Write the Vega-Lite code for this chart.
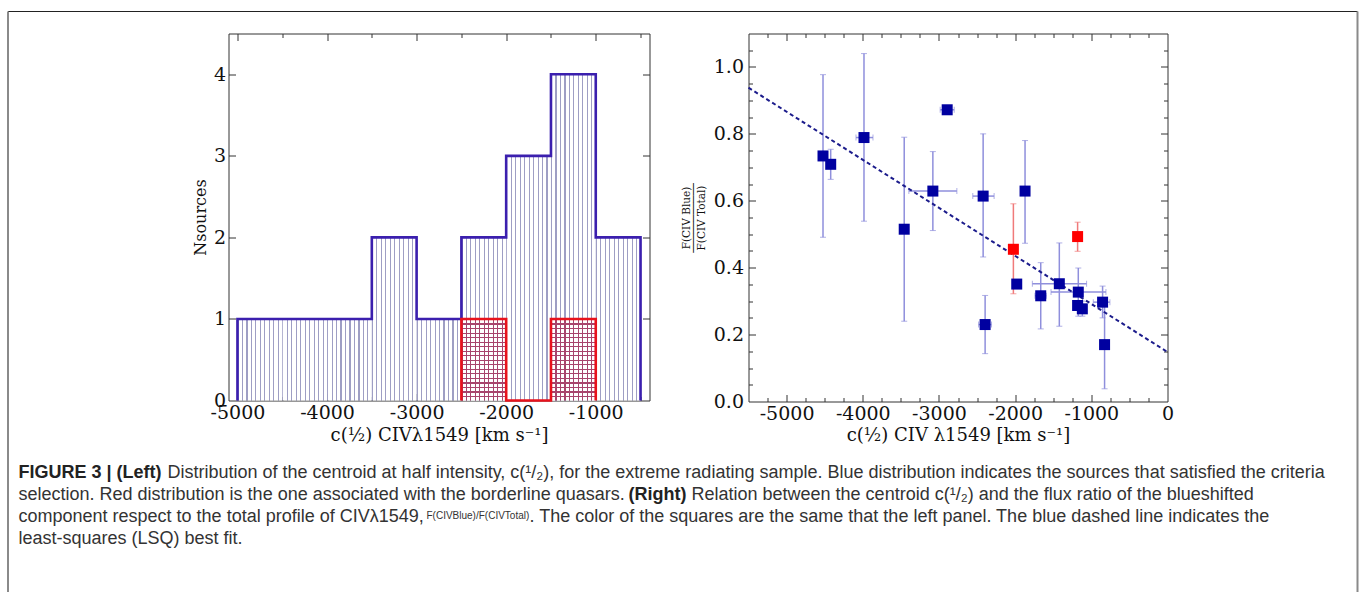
{
  "$schema": "https://vega.github.io/schema/vega-lite/v6.json",
  "padding": {"left": 6.5, "top": 9.5, "right": 0, "bottom": 0},
  "background": "white",
  "config": {
    "view": {"stroke": null},
    "axis": {"labelFont": "DejaVu Serif", "titleFont": "DejaVu Serif", "labelFontSize": 19, "titleFontSize": 18, "titleFontWeight": "normal", "labelColor": "#111", "titleColor": "#111", "tickColor": "#333", "tickWidth": 1, "grid": false, "labelFlush": false, "labelOverlap": false, "labelBound": false, "domain": false}
  },
  "datasets": {
    "hist": [
      {"start": -5000, "end": -4500, "count": 1, "group": "blue"},
      {"start": -4500, "end": -4000, "count": 1, "group": "blue"},
      {"start": -4000, "end": -3500, "count": 1, "group": "blue"},
      {"start": -3500, "end": -3000, "count": 2, "group": "blue"},
      {"start": -3000, "end": -2500, "count": 1, "group": "blue"},
      {"start": -2500, "end": -2000, "count": 2, "group": "blue"},
      {"start": -2000, "end": -1500, "count": 3, "group": "blue"},
      {"start": -1500, "end": -1000, "count": 4, "group": "blue"},
      {"start": -1000, "end": -500, "count": 2, "group": "blue"},
      {"start": -2500, "end": -2000, "count": 1, "group": "red"},
      {"start": -2000, "end": -1500, "count": 0, "group": "red"},
      {"start": -1500, "end": -1000, "count": 1, "group": "red"}
    ],
    "outline": [
      {"i": 0, "x": -5000, "y": 0, "group": "blue"},
      {"i": 1, "x": -5000, "y": 1, "group": "blue"},
      {"i": 2, "x": -3500, "y": 1, "group": "blue"},
      {"i": 3, "x": -3500, "y": 2, "group": "blue"},
      {"i": 4, "x": -3000, "y": 2, "group": "blue"},
      {"i": 5, "x": -3000, "y": 1, "group": "blue"},
      {"i": 6, "x": -2500, "y": 1, "group": "blue"},
      {"i": 7, "x": -2500, "y": 2, "group": "blue"},
      {"i": 8, "x": -2000, "y": 2, "group": "blue"},
      {"i": 9, "x": -2000, "y": 3, "group": "blue"},
      {"i": 10, "x": -1500, "y": 3, "group": "blue"},
      {"i": 11, "x": -1500, "y": 4, "group": "blue"},
      {"i": 12, "x": -1000, "y": 4, "group": "blue"},
      {"i": 13, "x": -1000, "y": 2, "group": "blue"},
      {"i": 14, "x": -500, "y": 2, "group": "blue"},
      {"i": 15, "x": -500, "y": 0, "group": "blue"},
      {"i": 0, "x": -2500, "y": 0, "group": "red"},
      {"i": 1, "x": -2500, "y": 1, "group": "red"},
      {"i": 2, "x": -2000, "y": 1, "group": "red"},
      {"i": 3, "x": -2000, "y": 0, "group": "red"},
      {"i": 4, "x": -1500, "y": 0, "group": "red"},
      {"i": 5, "x": -1500, "y": 1, "group": "red"},
      {"i": 6, "x": -1000, "y": 1, "group": "red"},
      {"i": 7, "x": -1000, "y": 0, "group": "red"}
    ],
    "points": [
      {"x": -4522, "y": 0.734, "group": "blue", "ylo": 0.491, "yhi": 0.977, "xlo": null, "xhi": null},
      {"x": -4421, "y": 0.709, "group": "blue", "ylo": 0.664, "yhi": 0.754, "xlo": null, "xhi": null},
      {"x": -3984, "y": 0.789, "group": "blue", "ylo": 0.539, "yhi": 1.040, "xlo": -4089, "xhi": -3866},
      {"x": -2892, "y": 0.872, "group": "blue", "ylo": null, "yhi": null, "xlo": -2984, "xhi": -2800},
      {"x": -3456, "y": 0.515, "group": "blue", "ylo": 0.240, "yhi": 0.790, "xlo": null, "xhi": null},
      {"x": -3080, "y": 0.629, "group": "blue", "ylo": 0.511, "yhi": 0.747, "xlo": -3395, "xhi": -2765},
      {"x": -2420, "y": 0.614, "group": "blue", "ylo": 0.432, "yhi": 0.800, "xlo": -2556, "xhi": -2276},
      {"x": -1870, "y": 0.629, "group": "blue", "ylo": 0.473, "yhi": 0.780, "xlo": null, "xhi": null},
      {"x": -2023, "y": 0.455, "group": "red", "ylo": 0.322, "yhi": 0.591, "xlo": null, "xhi": null},
      {"x": -1180, "y": 0.493, "group": "red", "ylo": 0.449, "yhi": 0.536, "xlo": null, "xhi": null},
      {"x": -1979, "y": 0.351, "group": "blue", "ylo": null, "yhi": null, "xlo": null, "xhi": null},
      {"x": -2394, "y": 0.230, "group": "blue", "ylo": 0.143, "yhi": 0.317, "xlo": -2480, "xhi": -2310},
      {"x": -1664, "y": 0.316, "group": "blue", "ylo": 0.217, "yhi": 0.415, "xlo": -1740, "xhi": -1590},
      {"x": -1420, "y": 0.352, "group": "blue", "ylo": 0.225, "yhi": 0.474, "xlo": -1774, "xhi": -1062},
      {"x": -1171, "y": 0.327, "group": "blue", "ylo": 0.255, "yhi": 0.399, "xlo": -1529, "xhi": -808},
      {"x": -1180, "y": 0.287, "group": "blue", "ylo": null, "yhi": null, "xlo": null, "xhi": null},
      {"x": -1118, "y": 0.277, "group": "blue", "ylo": 0.255, "yhi": 0.300, "xlo": null, "xhi": null},
      {"x": -852, "y": 0.297, "group": "blue", "ylo": 0.250, "yhi": 0.345, "xlo": -974, "xhi": -756},
      {"x": -826, "y": 0.170, "group": "blue", "ylo": 0.038, "yhi": 0.300, "xlo": -880, "xhi": -770}
    ],
    "fit": [
      {"x": -5500, "y": 0.938},
      {"x": 0, "y": 0.148}
    ],
    "caption": [
      {"line": 1, "seg": "a", "text": "FIGURE 3 | (Left)"},
      {"line": 1, "seg": "b", "text": "Distribution of the centroid at half intensity, c(¹/₂), for the extreme radiating sample. Blue distribution indicates the sources that satisfied the criteria"},
      {"line": 2, "seg": "a", "text": "selection. Red distribution is the one associated with the borderline quasars."},
      {"line": 2, "seg": "b", "text": "(Right)"},
      {"line": 2, "seg": "c", "text": "Relation between the centroid c(¹/₂) and the flux ratio of the blueshifted"},
      {"line": 3, "seg": "a", "text": "component respect to the total profile of CIVλ1549,"},
      {"line": 3, "seg": "b", "text": "F(CIVBlue)/F(CIVTotal)"},
      {"line": 3, "seg": "c", "text": ". The color of the squares are the same that the left panel. The blue dashed line indicates the"},
      {"line": 4, "seg": "a", "text": "least-squares (LSQ) best fit."}
    ],
    "frame": [{}]
  },
  "spacing": 99,
  "bounds": "flush",
  "hconcat": [
    {
      "width": 421,
      "height": 367,
      "view": {"stroke": "#333", "strokeWidth": 1},
      "resolve": {"axis": {"x": "independent", "y": "independent"}},
      "layer": [
        {
          "data": {"name": "hist"},
          "transform": [{"filter": "datum.group === 'blue'"}],
          "mark": {"type": "bar", "strokeWidth": 0, "fill": {"gradient": "linear", "x1": 0, "y1": 0, "x2": 1, "y2": 0, "stops": [
            {"offset": 0, "color": "#9e9ec4"}, {"offset": 0.025, "color": "#9e9ec4"}, {"offset": 0.025, "color": "#ffffff"}, {"offset": 0.1, "color": "#ffffff"},
            {"offset": 0.1, "color": "#9e9ec4"}, {"offset": 0.125, "color": "#9e9ec4"}, {"offset": 0.125, "color": "#ffffff"}, {"offset": 0.2, "color": "#ffffff"},
            {"offset": 0.2, "color": "#9e9ec4"}, {"offset": 0.225, "color": "#9e9ec4"}, {"offset": 0.225, "color": "#ffffff"}, {"offset": 0.3, "color": "#ffffff"},
            {"offset": 0.3, "color": "#9e9ec4"}, {"offset": 0.325, "color": "#9e9ec4"}, {"offset": 0.325, "color": "#ffffff"}, {"offset": 0.4, "color": "#ffffff"},
            {"offset": 0.4, "color": "#9e9ec4"}, {"offset": 0.425, "color": "#9e9ec4"}, {"offset": 0.425, "color": "#ffffff"}, {"offset": 0.5, "color": "#ffffff"},
            {"offset": 0.5, "color": "#9e9ec4"}, {"offset": 0.525, "color": "#9e9ec4"}, {"offset": 0.525, "color": "#ffffff"}, {"offset": 0.6, "color": "#ffffff"},
            {"offset": 0.6, "color": "#9e9ec4"}, {"offset": 0.625, "color": "#9e9ec4"}, {"offset": 0.625, "color": "#ffffff"}, {"offset": 0.7, "color": "#ffffff"},
            {"offset": 0.7, "color": "#9e9ec4"}, {"offset": 0.725, "color": "#9e9ec4"}, {"offset": 0.725, "color": "#ffffff"}, {"offset": 0.8, "color": "#ffffff"},
            {"offset": 0.8, "color": "#9e9ec4"}, {"offset": 0.825, "color": "#9e9ec4"}, {"offset": 0.825, "color": "#ffffff"}, {"offset": 0.9, "color": "#ffffff"},
            {"offset": 0.9, "color": "#9e9ec4"}, {"offset": 0.925, "color": "#9e9ec4"}, {"offset": 0.925, "color": "#ffffff"}, {"offset": 1, "color": "#ffffff"}
          ]}},
          "encoding": {
            "x": {"field": "start", "type": "quantitative", "scale": {"domain": [-5100, -400], "nice": false, "zero": false},
                  "axis": {"orient": "bottom", "values": [-5000, -4000, -3000, -2000, -1000], "labelExpr": "toString(datum.value)", "ticks": false, "labelPadding": 3, "title": "c(½) CIVλ1549 [km s⁻¹]", "titlePadding": 4}},
            "x2": {"field": "end"},
            "y": {"field": "count", "type": "quantitative", "scale": {"domain": [0, 4.5], "nice": false},
                  "axis": {"orient": "left", "values": [0, 1, 2, 3, 4], "format": "d", "ticks": false, "labelPadding": 3, "title": "Nsources", "titlePadding": 5, "titleFontSize": 16}},
            "y2": {"datum": 0}
          }
        },
        {
          "data": {"name": "hist"},
          "transform": [{"filter": "datum.group === 'red' && datum.count > 0"}],
          "mark": {"type": "bar", "strokeWidth": 0, "fill": {"gradient": "linear", "x1": 0, "y1": 0, "x2": 1, "y2": 0, "stops": [
            {"offset": 0, "color": "#a8446c"}, {"offset": 0.025, "color": "#a8446c"}, {"offset": 0.025, "color": "#ffffff"}, {"offset": 0.1, "color": "#ffffff"},
            {"offset": 0.1, "color": "#a8446c"}, {"offset": 0.125, "color": "#a8446c"}, {"offset": 0.125, "color": "#ffffff"}, {"offset": 0.2, "color": "#ffffff"},
            {"offset": 0.2, "color": "#a8446c"}, {"offset": 0.225, "color": "#a8446c"}, {"offset": 0.225, "color": "#ffffff"}, {"offset": 0.3, "color": "#ffffff"},
            {"offset": 0.3, "color": "#a8446c"}, {"offset": 0.325, "color": "#a8446c"}, {"offset": 0.325, "color": "#ffffff"}, {"offset": 0.4, "color": "#ffffff"},
            {"offset": 0.4, "color": "#a8446c"}, {"offset": 0.425, "color": "#a8446c"}, {"offset": 0.425, "color": "#ffffff"}, {"offset": 0.5, "color": "#ffffff"},
            {"offset": 0.5, "color": "#a8446c"}, {"offset": 0.525, "color": "#a8446c"}, {"offset": 0.525, "color": "#ffffff"}, {"offset": 0.6, "color": "#ffffff"},
            {"offset": 0.6, "color": "#a8446c"}, {"offset": 0.625, "color": "#a8446c"}, {"offset": 0.625, "color": "#ffffff"}, {"offset": 0.7, "color": "#ffffff"},
            {"offset": 0.7, "color": "#a8446c"}, {"offset": 0.725, "color": "#a8446c"}, {"offset": 0.725, "color": "#ffffff"}, {"offset": 0.8, "color": "#ffffff"},
            {"offset": 0.8, "color": "#a8446c"}, {"offset": 0.825, "color": "#a8446c"}, {"offset": 0.825, "color": "#ffffff"}, {"offset": 0.9, "color": "#ffffff"},
            {"offset": 0.9, "color": "#a8446c"}, {"offset": 0.925, "color": "#a8446c"}, {"offset": 0.925, "color": "#ffffff"}, {"offset": 1, "color": "#ffffff"}
          ]}},
          "encoding": {
            "x": {"field": "start", "type": "quantitative",
                  "axis": {"orient": "bottom", "values": [-5000, -4500, -4000, -3500, -3000, -2500, -2000, -1500, -1000, -500], "labels": false, "title": null, "tickSize": {"condition": {"test": "datum.value % 1000 === 0", "value": -7}, "value": -4}}},
            "x2": {"field": "end"},
            "y": {"field": "count", "type": "quantitative",
                  "axis": {"orient": "left", "values": [1, 2, 3, 4], "labels": false, "title": null, "tickSize": -7}},
            "y2": {"datum": 0}
          }
        },
        {
          "data": {"name": "hist"},
          "transform": [{"filter": "datum.group === 'red' && datum.count > 0"}],
          "mark": {"type": "bar", "strokeWidth": 0, "fill": {"gradient": "linear", "x1": 0, "y1": 0, "x2": 0, "y2": 1, "stops": [
            {"offset": 0, "color": "#a8446c"}, {"offset": 0.014, "color": "#a8446c"}, {"offset": 0.014, "color": "rgba(255,255,255,0)"}, {"offset": 0.0556, "color": "rgba(255,255,255,0)"},
            {"offset": 0.0556, "color": "#a8446c"}, {"offset": 0.0696, "color": "#a8446c"}, {"offset": 0.0696, "color": "rgba(255,255,255,0)"}, {"offset": 0.1111, "color": "rgba(255,255,255,0)"},
            {"offset": 0.1111, "color": "#a8446c"}, {"offset": 0.1251, "color": "#a8446c"}, {"offset": 0.1251, "color": "rgba(255,255,255,0)"}, {"offset": 0.1667, "color": "rgba(255,255,255,0)"},
            {"offset": 0.1667, "color": "#a8446c"}, {"offset": 0.1807, "color": "#a8446c"}, {"offset": 0.1807, "color": "rgba(255,255,255,0)"}, {"offset": 0.2222, "color": "rgba(255,255,255,0)"},
            {"offset": 0.2222, "color": "#a8446c"}, {"offset": 0.2362, "color": "#a8446c"}, {"offset": 0.2362, "color": "rgba(255,255,255,0)"}, {"offset": 0.2778, "color": "rgba(255,255,255,0)"},
            {"offset": 0.2778, "color": "#a8446c"}, {"offset": 0.2918, "color": "#a8446c"}, {"offset": 0.2918, "color": "rgba(255,255,255,0)"}, {"offset": 0.3333, "color": "rgba(255,255,255,0)"},
            {"offset": 0.3333, "color": "#a8446c"}, {"offset": 0.3473, "color": "#a8446c"}, {"offset": 0.3473, "color": "rgba(255,255,255,0)"}, {"offset": 0.3889, "color": "rgba(255,255,255,0)"},
            {"offset": 0.3889, "color": "#a8446c"}, {"offset": 0.4029, "color": "#a8446c"}, {"offset": 0.4029, "color": "rgba(255,255,255,0)"}, {"offset": 0.4444, "color": "rgba(255,255,255,0)"},
            {"offset": 0.4444, "color": "#a8446c"}, {"offset": 0.4584, "color": "#a8446c"}, {"offset": 0.4584, "color": "rgba(255,255,255,0)"}, {"offset": 0.5, "color": "rgba(255,255,255,0)"},
            {"offset": 0.5, "color": "#a8446c"}, {"offset": 0.514, "color": "#a8446c"}, {"offset": 0.514, "color": "rgba(255,255,255,0)"}, {"offset": 0.5556, "color": "rgba(255,255,255,0)"},
            {"offset": 0.5556, "color": "#a8446c"}, {"offset": 0.5696, "color": "#a8446c"}, {"offset": 0.5696, "color": "rgba(255,255,255,0)"}, {"offset": 0.6111, "color": "rgba(255,255,255,0)"},
            {"offset": 0.6111, "color": "#a8446c"}, {"offset": 0.6251, "color": "#a8446c"}, {"offset": 0.6251, "color": "rgba(255,255,255,0)"}, {"offset": 0.6667, "color": "rgba(255,255,255,0)"},
            {"offset": 0.6667, "color": "#a8446c"}, {"offset": 0.6807, "color": "#a8446c"}, {"offset": 0.6807, "color": "rgba(255,255,255,0)"}, {"offset": 0.7222, "color": "rgba(255,255,255,0)"},
            {"offset": 0.7222, "color": "#a8446c"}, {"offset": 0.7362, "color": "#a8446c"}, {"offset": 0.7362, "color": "rgba(255,255,255,0)"}, {"offset": 0.7778, "color": "rgba(255,255,255,0)"},
            {"offset": 0.7778, "color": "#a8446c"}, {"offset": 0.7918, "color": "#a8446c"}, {"offset": 0.7918, "color": "rgba(255,255,255,0)"}, {"offset": 0.8333, "color": "rgba(255,255,255,0)"},
            {"offset": 0.8333, "color": "#a8446c"}, {"offset": 0.8473, "color": "#a8446c"}, {"offset": 0.8473, "color": "rgba(255,255,255,0)"}, {"offset": 0.8889, "color": "rgba(255,255,255,0)"},
            {"offset": 0.8889, "color": "#a8446c"}, {"offset": 0.9029, "color": "#a8446c"}, {"offset": 0.9029, "color": "rgba(255,255,255,0)"}, {"offset": 0.9444, "color": "rgba(255,255,255,0)"},
            {"offset": 0.9444, "color": "#a8446c"}, {"offset": 0.9584, "color": "#a8446c"}, {"offset": 0.9584, "color": "rgba(255,255,255,0)"}, {"offset": 1, "color": "rgba(255,255,255,0)"}
          ]}},
          "encoding": {
            "x": {"field": "start", "type": "quantitative",
                  "axis": {"orient": "top", "values": [-5000, -4500, -4000, -3500, -3000, -2500, -2000, -1500, -1000, -500], "labels": false, "title": null, "tickSize": {"condition": {"test": "datum.value % 1000 === 0", "value": -7}, "value": -4}}},
            "x2": {"field": "end"},
            "y": {"field": "count", "type": "quantitative",
                  "axis": {"orient": "right", "values": [1, 2, 3, 4], "labels": false, "title": null, "tickSize": -7}},
            "y2": {"datum": 0}
          }
        },
        {
          "data": {"name": "outline"},
          "transform": [{"filter": "datum.group === 'blue'"}],
          "mark": {"type": "line", "color": "#3b1fae", "strokeWidth": 2.6, "strokeJoin": "miter", "strokeCap": "butt"},
          "encoding": {
            "x": {"field": "x", "type": "quantitative", "axis": null},
            "y": {"field": "y", "type": "quantitative", "axis": null},
            "order": {"field": "i", "type": "quantitative"}
          }
        },
        {
          "data": {"name": "outline"},
          "transform": [{"filter": "datum.group === 'red'"}],
          "mark": {"type": "line", "color": "#e8121c", "strokeWidth": 2.6, "strokeJoin": "miter", "strokeCap": "butt"},
          "encoding": {
            "x": {"field": "x", "type": "quantitative", "axis": null},
            "y": {"field": "y", "type": "quantitative", "axis": null},
            "order": {"field": "i", "type": "quantitative"}
          }
        },
        {
          "data": {"name": "caption"},
          "transform": [{"filter": "datum.seg === 'a' && datum.line === 1"}],
          "mark": {"type": "text", "align": "left", "baseline": "middle", "font": "Liberation Sans", "fontSize": 18, "fontWeight": "bold", "color": "#222"},
          "encoding": {"x": {"value": -210}, "y": {"value": 439}, "text": {"field": "text"}}
        },
        {
          "data": {"name": "caption"},
          "transform": [{"filter": "datum.seg === 'b' && datum.line === 1"}],
          "mark": {"type": "text", "align": "left", "baseline": "middle", "font": "Liberation Sans", "fontSize": 18, "color": "#333"},
          "encoding": {"x": {"value": -61}, "y": {"value": 439}, "text": {"field": "text"}}
        },
        {
          "data": {"name": "caption"},
          "transform": [{"filter": "datum.seg === 'a' && datum.line === 2"}],
          "mark": {"type": "text", "align": "left", "baseline": "middle", "font": "Liberation Sans", "fontSize": 18, "color": "#333"},
          "encoding": {"x": {"value": -210}, "y": {"value": 461}, "text": {"field": "text"}}
        },
        {
          "data": {"name": "caption"},
          "transform": [{"filter": "datum.seg === 'b' && datum.line === 2"}],
          "mark": {"type": "text", "align": "left", "baseline": "middle", "font": "Liberation Sans", "fontSize": 18, "fontWeight": "bold", "color": "#222"},
          "encoding": {"x": {"value": 400}, "y": {"value": 461}, "text": {"field": "text"}}
        },
        {
          "data": {"name": "caption"},
          "transform": [{"filter": "datum.seg === 'c' && datum.line === 2"}],
          "mark": {"type": "text", "align": "left", "baseline": "middle", "font": "Liberation Sans", "fontSize": 18, "color": "#333"},
          "encoding": {"x": {"value": 463}, "y": {"value": 461}, "text": {"field": "text"}}
        },
        {
          "data": {"name": "caption"},
          "transform": [{"filter": "datum.seg === 'a' && datum.line === 3"}],
          "mark": {"type": "text", "align": "left", "baseline": "middle", "font": "Liberation Sans", "fontSize": 18, "color": "#333"},
          "encoding": {"x": {"value": -210}, "y": {"value": 483}, "text": {"field": "text"}}
        },
        {
          "data": {"name": "caption"},
          "transform": [{"filter": "datum.seg === 'b' && datum.line === 3"}],
          "mark": {"type": "text", "align": "left", "baseline": "middle", "font": "Liberation Sans", "fontSize": 10, "color": "#333", "dy": -1},
          "encoding": {"x": {"value": 198}, "y": {"value": 483}, "text": {"field": "text"}}
        },
        {
          "data": {"name": "caption"},
          "transform": [{"filter": "datum.seg === 'c' && datum.line === 3"}],
          "mark": {"type": "text", "align": "left", "baseline": "middle", "font": "Liberation Sans", "fontSize": 18, "color": "#333"},
          "encoding": {"x": {"value": 301}, "y": {"value": 483}, "text": {"field": "text"}}
        },
        {
          "data": {"name": "caption"},
          "transform": [{"filter": "datum.line === 4"}],
          "mark": {"type": "text", "align": "left", "baseline": "middle", "font": "Liberation Sans", "fontSize": 18, "color": "#333"},
          "encoding": {"x": {"value": -210}, "y": {"value": 505}, "text": {"field": "text"}}
        },
        {
          "data": {"name": "frame"},
          "mark": {"type": "rule", "color": "#222", "strokeWidth": 1},
          "encoding": {"x": {"value": -220.5}, "x2": {"value": 1129}, "y": {"value": -22}}
        },
        {
          "data": {"name": "frame"},
          "mark": {"type": "rule", "color": "#8a8a8a", "strokeWidth": 2},
          "encoding": {"x": {"value": -220.5}, "y": {"value": -22}, "y2": {"value": 600}}
        },
        {
          "data": {"name": "frame"},
          "mark": {"type": "rule", "color": "#8a8a8a", "strokeWidth": 2},
          "encoding": {"x": {"value": 1129}, "y": {"value": -22}, "y2": {"value": 600}}
        }
      ]
    },
    {
      "width": 419,
      "height": 368,
      "view": {"stroke": "#333", "strokeWidth": 1},
      "resolve": {"axis": {"x": "independent", "y": "independent"}},
      "data": {"name": "points"},
      "layer": [
        {
          "transform": [{"filter": "isValid(datum.ylo)"}],
          "mark": {"type": "rule", "strokeWidth": 1.5},
          "encoding": {
            "x": {"field": "x", "type": "quantitative", "scale": {"domain": [-5500, 0], "nice": false, "zero": false},
                  "axis": {"orient": "bottom", "values": [-5000, -4000, -3000, -2000, -1000, 0], "labelExpr": "toString(datum.value)", "ticks": false, "labelPadding": 3, "title": "c(½) CIV λ1549  [km s⁻¹]", "titlePadding": 3}},
            "y": {"field": "ylo", "type": "quantitative", "scale": {"domain": [0, 1.1], "nice": false},
                  "axis": {"orient": "left", "values": [0, 0.2, 0.4, 0.6, 0.8, 1.0], "format": ".1f", "ticks": false, "labelPadding": 5, "title": ["F(CIV Blue)", "───────────", "F(CIV Total)"], "titleFontSize": 10.5, "titleLineHeight": 7.5, "titlePadding": 7}},
            "y2": {"field": "yhi"},
            "color": {"condition": {"test": "datum.group === 'red'", "value": "#f07a7a"}, "value": "#8f8fdc"}
          }
        },
        {
          "transform": [{"filter": "isValid(datum.ylo)"}],
          "mark": {"type": "tick", "orient": "horizontal", "size": 6, "thickness": 1},
          "encoding": {
            "x": {"field": "x", "type": "quantitative",
                  "axis": {"orient": "bottom", "values": [-5250, -5000, -4750, -4500, -4250, -4000, -3750, -3500, -3250, -3000, -2750, -2500, -2250, -2000, -1750, -1500, -1250, -1000, -750, -500, -250], "labels": false, "title": null, "tickSize": {"condition": {"test": "datum.value % 1000 === 0", "value": -7}, "value": -4}}},
            "y": {"field": "ylo", "type": "quantitative",
                  "axis": {"orient": "left", "values": [0.05, 0.1, 0.15, 0.2, 0.25, 0.3, 0.35, 0.4, 0.45, 0.5, 0.55, 0.6, 0.65, 0.7, 0.75, 0.8, 0.85, 0.9, 0.95, 1.0, 1.05], "labels": false, "title": null, "tickSize": {"condition": {"test": "abs(datum.value / 0.2 - round(datum.value / 0.2)) < 0.001", "value": -7}, "value": -4}}},
            "color": {"condition": {"test": "datum.group === 'red'", "value": "#f07a7a"}, "value": "#8f8fdc"}
          }
        },
        {
          "transform": [{"filter": "isValid(datum.yhi)"}],
          "mark": {"type": "tick", "orient": "horizontal", "size": 6, "thickness": 1},
          "encoding": {
            "x": {"field": "x", "type": "quantitative",
                  "axis": {"orient": "top", "values": [-5250, -5000, -4750, -4500, -4250, -4000, -3750, -3500, -3250, -3000, -2750, -2500, -2250, -2000, -1750, -1500, -1250, -1000, -750, -500, -250], "labels": false, "title": null, "tickSize": {"condition": {"test": "datum.value % 1000 === 0", "value": -7}, "value": -4}}},
            "y": {"field": "yhi", "type": "quantitative",
                  "axis": {"orient": "right", "values": [0.05, 0.1, 0.15, 0.2, 0.25, 0.3, 0.35, 0.4, 0.45, 0.5, 0.55, 0.6, 0.65, 0.7, 0.75, 0.8, 0.85, 0.9, 0.95, 1.0, 1.05], "labels": false, "title": null, "tickSize": {"condition": {"test": "abs(datum.value / 0.2 - round(datum.value / 0.2)) < 0.001", "value": -7}, "value": -4}}},
            "color": {"condition": {"test": "datum.group === 'red'", "value": "#f07a7a"}, "value": "#8f8fdc"}
          }
        },
        {
          "transform": [{"filter": "isValid(datum.xlo)"}],
          "mark": {"type": "rule", "strokeWidth": 1.5},
          "encoding": {
            "x": {"field": "xlo", "type": "quantitative", "axis": null},
            "x2": {"field": "xhi"},
            "y": {"field": "y", "type": "quantitative", "axis": null},
            "color": {"value": "#8f8fdc"}
          }
        },
        {
          "transform": [{"filter": "isValid(datum.xlo)"}],
          "mark": {"type": "tick", "orient": "vertical", "size": 6, "thickness": 1, "color": "#8f8fdc"},
          "encoding": {
            "x": {"field": "xlo", "type": "quantitative", "axis": null},
            "y": {"field": "y", "type": "quantitative", "axis": null}
          }
        },
        {
          "transform": [{"filter": "isValid(datum.xhi)"}],
          "mark": {"type": "tick", "orient": "vertical", "size": 6, "thickness": 1, "color": "#8f8fdc"},
          "encoding": {
            "x": {"field": "xhi", "type": "quantitative", "axis": null},
            "y": {"field": "y", "type": "quantitative", "axis": null}
          }
        },
        {
          "data": {"name": "fit"},
          "mark": {"type": "line", "color": "#1c1c8c", "strokeWidth": 2, "strokeDash": [4, 3]},
          "encoding": {
            "x": {"field": "x", "type": "quantitative", "axis": null},
            "y": {"field": "y", "type": "quantitative", "axis": null}
          }
        },
        {
          "mark": {"type": "point", "shape": "square", "filled": true, "size": 121, "opacity": 1},
          "encoding": {
            "x": {"field": "x", "type": "quantitative", "axis": null},
            "y": {"field": "y", "type": "quantitative", "axis": null},
            "color": {"condition": {"test": "datum.group === 'red'", "value": "#ff0000"}, "value": "#0000a0"}
          }
        }
      ]
    }
  ]
}
